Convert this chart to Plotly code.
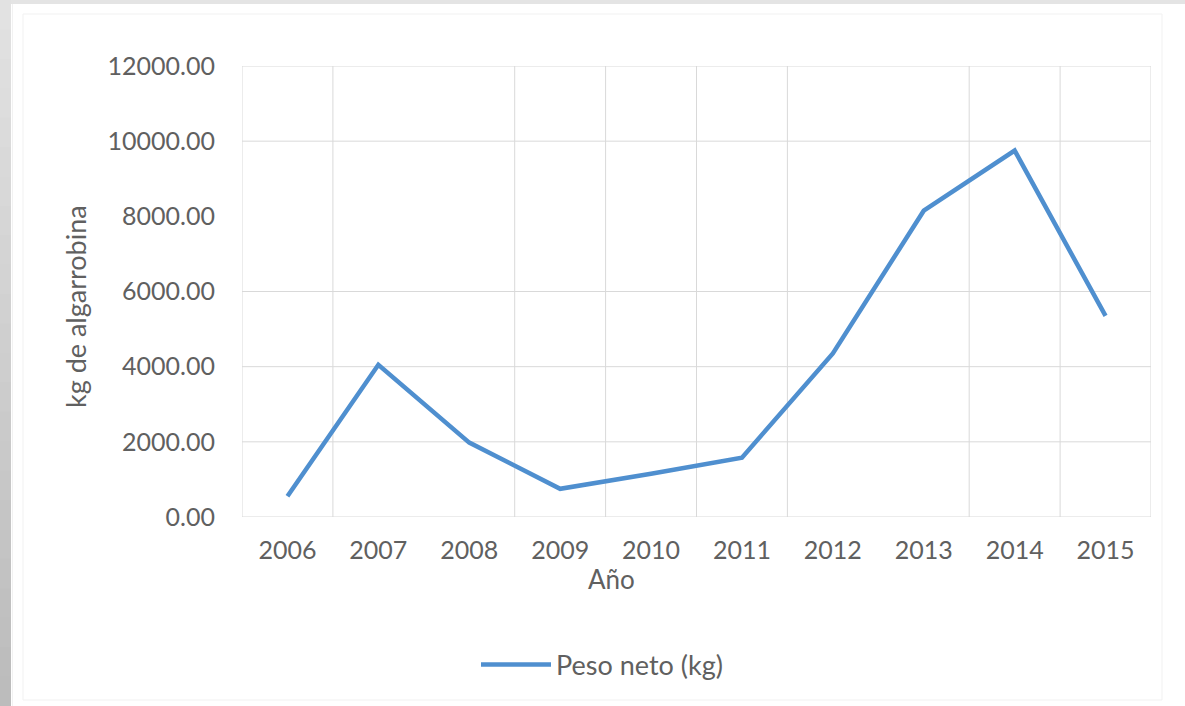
import plotly.graph_objects as go

# ---- data ----
years = ["2006", "2007", "2008", "2009", "2010", "2011", "2012", "2013", "2014", "2015"]
peso_neto = [550, 4050, 1980, 750, 1150, 1580, 4350, 8150, 9750, 5350]
y_tick_values = [0, 2000, 4000, 6000, 8000, 10000, 12000]
y_grid_values = [0, 2000, 4000, 6000, 10000, 12000]
x_grid_bounds = [-0.5, 0.5, 2.5, 3.5, 4.5, 5.5, 7.5, 8.5, 9.5]

series_name = "Peso neto (kg)"
x_title = "Año"
y_title = "kg de algarrobina"

# ---- geometry ----
W, H = 1185, 706
L, R, T, B = 242, 1151, 66, 517
PW, PH = R - L, B - T


def px(xp):
    return (xp - L) / PW


def py(yp):
    return (B - yp) / PH


FONT = "Lato, Carlito, Calibri, sans-serif"
TXT = "#606060"
GRID = "#d9d9d9"
LINE = "#4f8fcf"

idx = list(range(len(years)))

fig = go.Figure()
fig.add_trace(go.Scatter(
    x=idx, y=peso_neto, mode="lines", name=series_name,
    line=dict(color=LINE, width=4.5),
    showlegend=True,
))

shapes = []
# background decorations (page frame)
shapes.append(dict(type="rect", xref="paper", yref="paper",
                   x0=px(0), x1=px(W), y0=py(0), y1=py(4),
                   fillcolor="#e4e4e4", line=dict(width=0), layer="below"))
n = 24
for i in range(n):
    y0p = H * i / n
    y1p = H * (i + 1) / n + 2
    g = int(0xe2 - (0xe2 - 0xbc) * (i / (n - 1)))
    shapes.append(dict(type="rect", xref="paper", yref="paper",
                       x0=px(0), x1=px(11), y0=py(y1p), y1=py(y0p),
                       fillcolor=f"rgb({g},{g},{g})", line=dict(width=0), layer="below"))
shapes.append(dict(type="line", xref="paper", yref="paper",
                   x0=px(12.5), x1=px(12.5), y0=py(4), y1=py(H),
                   line=dict(color="#f2f2f2", width=1), layer="below"))
shapes.append(dict(type="rect", xref="paper", yref="paper",
                   x0=px(23), x1=px(1162), y0=py(700), y1=py(14),
                   line=dict(color="#f1f1f1", width=1), layer="below"))

# gridlines
for b in x_grid_bounds:
    shapes.append(dict(type="line", xref="x", yref="paper", x0=b, x1=b, y0=0, y1=1,
                       line=dict(color=GRID, width=1), layer="below"))
for v in y_grid_values:
    shapes.append(dict(type="line", xref="paper", yref="y", x0=0, x1=1, y0=v, y1=v,
                       line=dict(color=GRID, width=1), layer="below"))

annotations = [
    dict(text=x_title, xref="paper", yref="paper", x=px(611), y=py(579),
         xanchor="center", yanchor="middle", showarrow=False,
         font=dict(family=FONT, size=26, color=TXT)),
    dict(text=y_title, xref="paper", yref="paper", x=px(75), y=py(307),
         xanchor="center", yanchor="middle", showarrow=False, textangle=-90,
         font=dict(family=FONT, size=27, color=TXT)),
]

fig.update_layout(
    width=W, height=H,
    margin=dict(l=L, r=W - R, t=T, b=H - B),
    paper_bgcolor="white", plot_bgcolor="white",
    font=dict(family=FONT, size=25, color=TXT),
    shapes=shapes,
    annotations=annotations,
    showlegend=True,
    legend=dict(orientation="h", x=px(602), y=py(665), xanchor="center", yanchor="middle",
                font=dict(family=FONT, size=27, color=TXT), itemwidth=70,
                bgcolor="rgba(0,0,0,0)"),
    xaxis=dict(range=[-0.5, 9.5], tickmode="array", tickvals=idx, ticktext=years,
               showgrid=False, zeroline=False, showline=False, ticks="",
               ticklabelstandoff=16, tickfont=dict(family=FONT, size=25, color=TXT),
               fixedrange=True),
    yaxis=dict(range=[0, 12000], tickmode="array", tickvals=y_tick_values,
               tickformat=".2f", showgrid=False, zeroline=False, showline=False,
               ticks="", ticklabelstandoff=26,
               tickfont=dict(family=FONT, size=25, color=TXT), fixedrange=True),
)

fig.write_html("out.html")
